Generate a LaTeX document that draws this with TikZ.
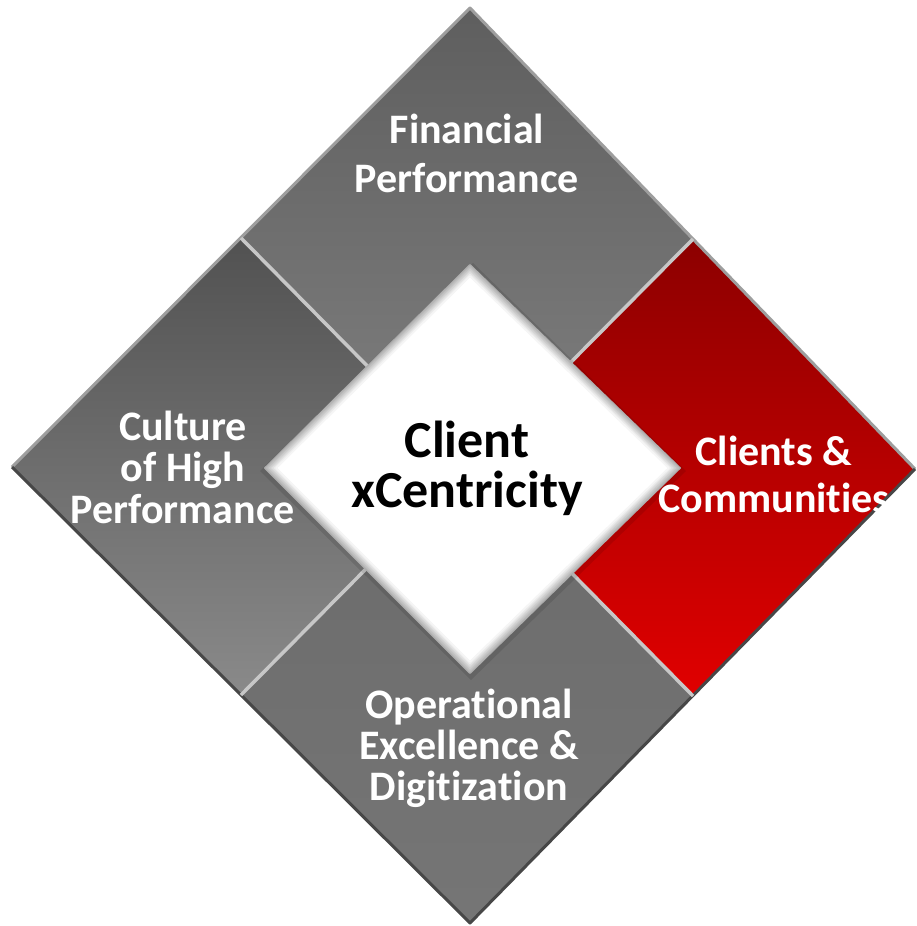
\documentclass[tikz,border=0pt]{standalone}
\usepackage{fontspec}
\setmainfont[Ligatures=NoCommon]{Carlito}
\begin{document}
\begin{tikzpicture}[x=1pt,y=-1pt,line join=round,
  lbl/.style={text=white, inner sep=0pt, anchor=base, font=\fontsize{42}{#1}\selectfont\bfseries},
  divider/.style={draw=black!22, line width=3.5pt},
  hiedge/.style={draw=black!38, line width=3pt},
  loedge/.style={draw=black!72, line width=3pt}]
\useasboundingbox (0,0) rectangle (917,926);
% outer corners and edge midpoints
\coordinate (T) at (470,8);
\coordinate (R) at (915,469);
\coordinate (B) at (470,923);
\coordinate (L) at (12,467);
\coordinate (O) at (467,467);
\coordinate (TLm) at (241,238);
\coordinate (TRm) at (693,239);
\coordinate (BRm) at (693,696);
\coordinate (BLm) at (241,695);
% pieces
\shade[top color=black!63, bottom color=black!50] (T) -- (TRm) -- (O) -- (TLm) -- cycle;
\shade[top color=black!68, bottom color=black!46] (TLm) -- (O) -- (BLm) -- (L) -- cycle;
\shade[top color=black!58, bottom color=black!54] (O) -- (BRm) -- (B) -- (BLm) -- cycle;
\shade[top color=red!55!black, bottom color=red!88!black] (TRm) -- (R) -- (BRm) -- (O) -- cycle;
% outer edges
\draw[hiedge] (L) -- (T) -- (R);
\draw[loedge] (R) -- (B) -- (L);
% dividers
\draw[divider] (TLm) -- (O);
\draw[divider] (TRm) -- (O);
\draw[divider] (BRm) -- (O);
\draw[divider] (BLm) -- (O);
% central diamond shadow
\fill[black, opacity=0.10] (473,263) -- (686,471) -- (471,680) -- (260,471) -- cycle;
% central diamond
\fill[white] (470,265) -- (680,468) -- (470,673) -- (265,468) -- cycle;
\foreach \i in {0,...,7}{
  \pgfmathsetmacro\d{\i*1.6}
  \pgfmathtruncatemacro\c{32-4*\i}
  \draw[black!\c, line width=1.8pt] (470,265+\d) -- (680-\d,468) -- (470,673-\d) -- (265+\d,468) -- cycle;
}
% labels
\node[lbl=49] (fin) at (467,143) {\begin{tabular}[t]{@{}c@{}}Financial\\Performance\end{tabular}};
\node[lbl=41] (cult) at (183,440) {\begin{tabular}[t]{@{}c@{}}Culture\\of High\\Performance\end{tabular}};
\node[lbl=47] (cli) at (774,465) {\begin{tabular}[t]{@{}c@{}}Clients \&\\Communities\end{tabular}};
\node[lbl=40] (ops) at (469,718) {\begin{tabular}[t]{@{}c@{}}Operational\\Excellence \&\\Digitization\end{tabular}};
\node[inner sep=0pt, anchor=base, text=black, font=\fontsize{52}{48}\selectfont\bfseries] (ctr) at (467,457) {\begin{tabular}[t]{@{}c@{}}Client\\xCentricity\end{tabular}};
\end{tikzpicture}
\end{document}
